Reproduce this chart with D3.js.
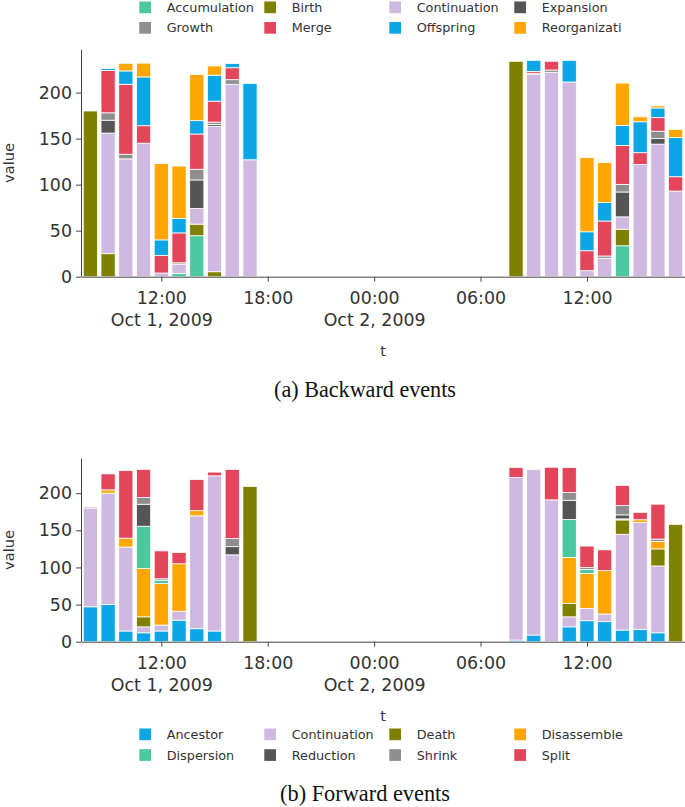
<!DOCTYPE html>
<html><head><meta charset="utf-8">
<script src="https://cdn.jsdelivr.net/npm/d3@7"></script>
<style>body{margin:0;background:#fff} svg{display:block}</style>
</head><body><svg id="c" width="685" height="807"></svg>
<script>
// ---------- data ----------
const times = [
  "2009-10-01T08:00","2009-10-01T09:00","2009-10-01T10:00","2009-10-01T11:00","2009-10-01T12:00",
  "2009-10-01T13:00","2009-10-01T14:00","2009-10-01T15:00","2009-10-01T16:00","2009-10-01T17:00",
  "2009-10-02T08:00","2009-10-02T09:00","2009-10-02T10:00","2009-10-02T11:00","2009-10-02T12:00",
  "2009-10-02T13:00","2009-10-02T14:00","2009-10-02T15:00","2009-10-02T16:00","2009-10-02T17:00"];
const tickTimes = ["2009-10-01T12:00","2009-10-01T18:00","2009-10-02T00:00","2009-10-02T06:00","2009-10-02T12:00"];
const tickLabels = ["12:00\nOct 1, 2009","18:00","00:00\nOct 2, 2009","06:00","12:00"];
const yTicks = [0,50,100,150,200];

// Backward events
const backwardKeys   = ["Accumulation","Birth","Continuation","Expansion","Growth","Merge","Offspring","Reorganization"];
const backwardLegend = ["Accumulation","Birth","Continuation","Expansion","Growth","Merge","Offspring","Reorganizati"];
const bwAccumulation   = [0,0,0,0,0,3.6,44.5,0,0,0, 0,0,0,0,0,0,33.6,0,0,0];
const bwBirth          = [180,25,0,0,0,0,12.6,5.4,0,0, 234,0,0,0,0,0,18,0,0,0];
const bwContinuation   = [0,131,128,145,4,10,17,158,209,127, 0,220,222,211.5,6.5,20,13.4,122,144,93];
const bwExpansion      = [0,14,0,0,0,0,31,2,0,0, 0,0,0,0,0,0,27,0,6,0];
const bwGrowth         = [0,8,5,0,0,1.5,11.6,2.5,5,0, 0,1,2.5,0,0,2.5,8.3,0,8,0];
const bwMerge          = [0,46,76,19,19,32.5,38.3,22.8,13,0, 0,2,9.5,0,21.7,38,42.3,12.7,14.8,15.6];
const bwOffspring      = [0,2,14.5,53,17,15.6,14.5,28.2,4.5,83, 0,12,0,23.5,20.6,20,21.7,33.6,10.5,42.7];
const bwReorganization = [0,0,8.3,15,83,57,50,10,0,0, 0,0,0,0,80.7,43.4,46,5.4,2.2,8.7];

// Forward events
const forwardKeys   = ["Ancestor","Continuation","Death","Disassemble","Dispersion","Reduction","Shrink","Split"];
const forwardLegend = ["Ancestor","Continuation","Death","Disassemble","Dispersion","Reduction","Shrink","Split"];
const fwAncestor     = [47,50,14.4,12,14.4,29,17.5,14.4,0,0, 2.2,9,0,20,28.3,27,15.7,16.6,12,0];
const fwContinuation = [133,150,113,8,8,12,152,209,117,0, 219,223,191,13.5,16.6,10.3,129,144,90,0];
const fwDeath        = [0,0,0,13.5,0,0,0,0,0,209, 0,0,0,18,0,0,19.3,0,23,158];
const fwDisassemble  = [0,4.5,12,65,56,64,7,0,0,0, 0,0,0,62,47,58.4,1.4,3.6,10,0];
const fwDispersion   = [0,0,0,57,4.4,0,0,0,0,0, 0,0,0,51,5.4,0,0,0,0,0];
const fwReduction    = [0,0,0,29.6,0,0,0,0,11,0, 0,0,0,26,0,0,5.4,0,0,0];
const fwShrink       = [1.5,0,0,9,2,0,0,0,11,0, 0,0,0,10.3,2.7,0,12.6,0,3.2,0];
const fwSplit        = [0,21.5,91,38,37.5,15,42,5,93,0, 13.5,0,44,33.7,28.8,28,27,10,47,0];

// ---------- styles ----------
const C = {teal:"#4cc8a0", olive:"#808000", purple:"#cfb9e1", dark:"#555555",
           gray:"#8e8e8e", red:"#e3465a", blue:"#0aa6e6", orange:"#ffa600"};
const backwardColors = [C.teal,C.olive,C.purple,C.dark,C.gray,C.red,C.blue,C.orange];
const forwardColors  = [C.blue,C.purple,C.olive,C.orange,C.teal,C.dark,C.gray,C.red];
const FONT = "'DejaVu Sans', Verdana, sans-serif";
const TXT = "#333", LINE = "#444";

const svg = d3.select("#c");
const parse = s => new Date(s + ":00Z");
const x = d3.scaleUtc()
  .domain([parse("2009-10-01T07:30"), parse("2009-10-02T17:30")])
  .range([81.5, 684.5]);
const hourPx = x(parse("2009-10-01T09:00")) - x(parse("2009-10-01T08:00"));
const barW = hourPx * 0.8;

function panel(o) {
  const rows = times.map((t, i) => {
    const r = {t: parse(t)};
    o.keys.forEach((k, j) => r[k] = o.values[j][i]);
    return r;
  });
  const y = d3.scaleLinear().domain([0, 247]).range([o.bottom, o.top]);
  const stack = d3.stack().keys(o.keys)(rows);
  const g = svg.append("g");
  stack.forEach((layer, j) => {
    g.append("g").attr("fill", o.colors[j])
      .selectAll("rect").data(layer.filter(d => d[1] - d[0] > 0)).join("rect")
      .attr("x", d => x(d.data.t) - barW / 2)
      .attr("width", barW)
      .attr("y", d => y(d[1]))
      .attr("height", d => y(d[0]) - y(d[1]))
      .attr("stroke", "#fff").attr("stroke-width", 0.8);
  });

  // x axis
  const xa = svg.append("g").attr("transform", `translate(0,${o.bottom})`)
    .call(d3.axisBottom(x).tickValues(tickTimes.map(parse))
      .tickFormat((d, i) => tickLabels[i]).tickSize(5).tickSizeOuter(0));
  xa.selectAll("text").each(function () {
    const t = d3.select(this), lines = t.text().split("\n");
    t.text(null).attr("y", 0).attr("dy", null);
    lines.forEach((l, k) => t.append("tspan").attr("x", 0).attr("y", 27.6 + k * 21.7).text(l));
  });
  // y axis
  const ya = svg.append("g").attr("transform", `translate(81,0)`)
    .call(d3.axisLeft(y).tickValues(yTicks).tickSize(5).tickPadding(4).tickSizeOuter(0));
  [xa, ya].forEach(a => {
    a.select(".domain").attr("stroke", LINE);
    a.selectAll(".tick line").attr("stroke", LINE);
    a.selectAll("text").attr("fill", TXT).style("font-family", FONT).style("font-size", "17.4px");
  });
  // titles
  svg.append("text").attr("transform", `translate(13.5,${(o.top + o.bottom) / 2}) rotate(-90)`)
    .attr("text-anchor", "middle").attr("fill", TXT)
    .style("font-family", FONT).style("font-size", "14.6px").text("value");
  svg.append("text").attr("x", (81.5 + 684.5) / 2).attr("y", o.tY + 5)
    .attr("text-anchor", "middle").attr("fill", TXT)
    .style("font-family", FONT).style("font-size", "14.6px").text("t");

  // legend
  const cols = [139.3, 264.3, 389.3, 514.3];
  o.legend.forEach((name, i) => {
    const cx = cols[i % 4], cy = o.legendRows[Math.floor(i / 4)];
    svg.append("rect").attr("x", cx).attr("y", cy - 5.8).attr("width", 11.7).attr("height", 11.7)
      .attr("fill", o.colors[i]);
    svg.append("text").attr("x", cx + 27.4).attr("y", cy + 4.5).attr("fill", TXT)
      .style("font-family", FONT).style("font-size", "12.8px").text(name);
  });

  // caption
  const cap = svg.append("text").attr("x", 365).attr("y", o.capY + 6)
    .attr("text-anchor", "middle").attr("fill", "#111")
    .style("font-family", "'Liberation Serif', 'DejaVu Serif', serif").style("font-size", "20px")
    .text(o.caption);
  const w = cap.node().getComputedTextLength();
  cap.style("font-size", (20 * o.capW / w).toFixed(2) + "px");
}

panel({
  keys: backwardKeys, legend: backwardLegend, colors: backwardColors,
  values: [bwAccumulation,bwBirth,bwContinuation,bwExpansion,bwGrowth,bwMerge,bwOffspring,bwReorganization],
  top: 49.3, bottom: 276.7, tY: 351, legendRows: [7.3, 27.8],
  caption: "(a) Backward events", capY: 391, capW: 182
});
panel({
  keys: forwardKeys, legend: forwardLegend, colors: forwardColors,
  values: [fwAncestor,fwContinuation,fwDeath,fwDisassemble,fwDispersion,fwReduction,fwShrink,fwSplit],
  top: 458.3, bottom: 641.7, tY: 716, legendRows: [734.3, 755],
  caption: "(b) Forward events", capY: 795, capW: 170
});
</script></body></html>
